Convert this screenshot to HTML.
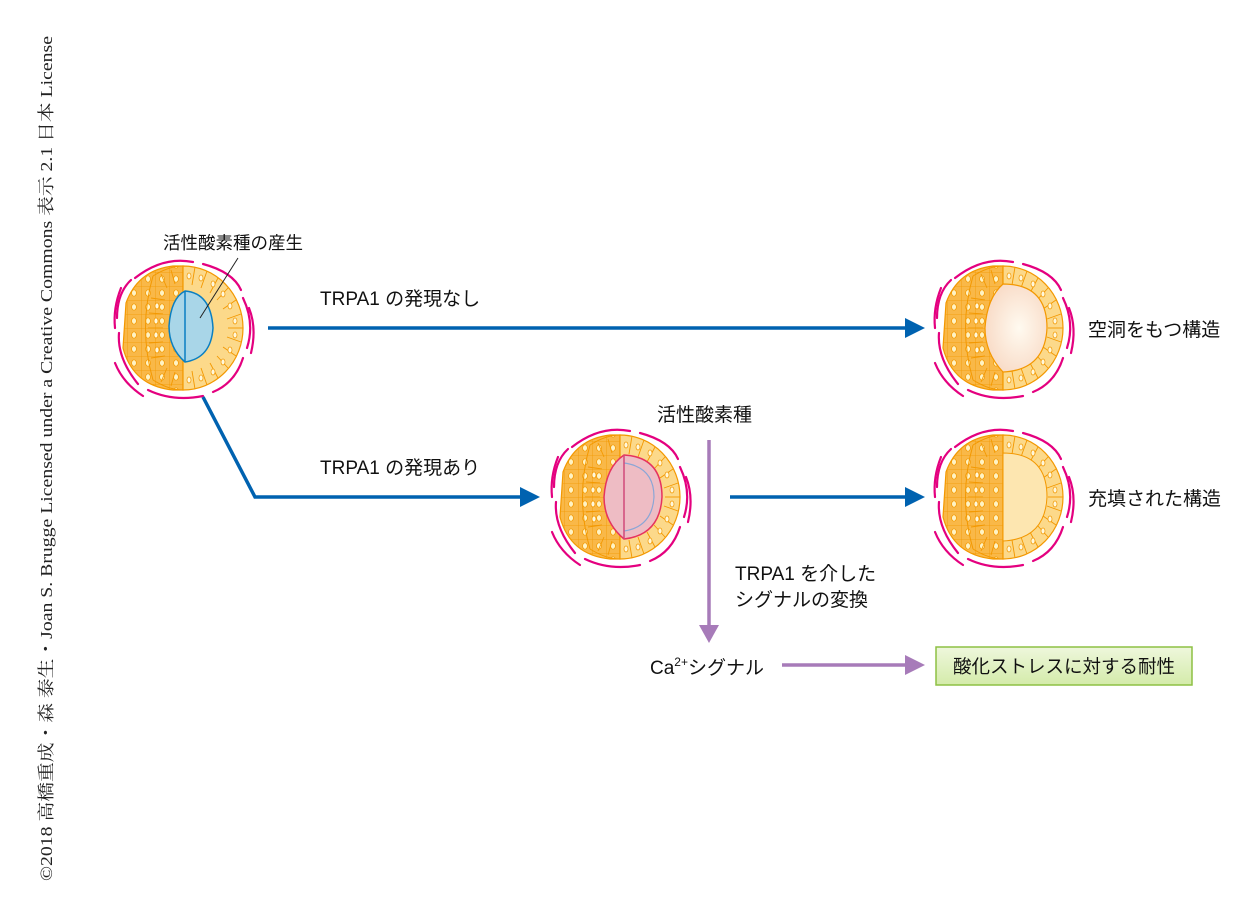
<!DOCTYPE html>
<html><head><meta charset="utf-8"><style>
html,body{margin:0;padding:0;background:#fff;}
svg{display:block}
text{font-family:"Liberation Sans","Noto Sans CJK JP",sans-serif;fill:#111;}
</style></head><body>
<svg width="1260" height="921" viewBox="0 0 1260 921" xmlns="http://www.w3.org/2000/svg">
<defs>
<radialGradient id="lum" cx="0.55" cy="0.5" r="0.6"><stop offset="0" stop-color="#fffaf0"/><stop offset="1" stop-color="#f8d9c4"/></radialGradient>
<linearGradient id="gbox" x1="0" y1="0" x2="0" y2="1"><stop offset="0" stop-color="#eef7dc"/><stop offset="1" stop-color="#d4ebaa"/></linearGradient>
<pattern id="cells" width="14" height="14" patternUnits="userSpaceOnUse">
<rect width="14" height="14" fill="#f9b848"/>
<path d="M0 0 L14 0 M0 0 L0 14" stroke="#f39800" stroke-width="0.8"/>
<ellipse cx="7" cy="7" rx="2.4" ry="3.2" fill="#fff3c4" stroke="#f39800" stroke-width="0.7"/>
</pattern>
<g id="sph">
<path d="M-57 -25 Q-45 -58 -10 -62 L0 -62 L0 62 L-10 62 Q-50 58 -60 20 Z" fill="url(#cells)" stroke="#f39800" stroke-width="1.2"/>
<path d="M0 -62 A60 62 0 0 1 0 62 Z" fill="#fcd98a" stroke="#f39800" stroke-width="1.2"/>
<path d="M-30 -52 Q-45 0 -30 52" fill="none" stroke="#f39800" stroke-width="1"/>
<path d="M-30 -52 Q-14 -62 0 -62 M-30 52 Q-14 62 0 62" fill="none" stroke="#f39800" stroke-width="1"/>
<g stroke="#f39800" stroke-width="0.9">
<line x1="0" y1="-62" x2="0" y2="-44"/><line x1="12" y1="-61" x2="9" y2="-43"/><line x1="24" y1="-57" x2="18" y2="-40"/><line x1="35" y1="-50" x2="27" y2="-35"/><line x1="45" y1="-40" x2="34" y2="-28"/><line x1="53" y1="-28" x2="40" y2="-19"/><line x1="58" y1="-14" x2="44" y2="-9"/><line x1="60" y1="0" x2="45" y2="0"/><line x1="58" y1="14" x2="44" y2="9"/><line x1="53" y1="28" x2="40" y2="19"/><line x1="45" y1="40" x2="34" y2="28"/><line x1="35" y1="50" x2="27" y2="35"/><line x1="24" y1="57" x2="18" y2="40"/><line x1="12" y1="61" x2="9" y2="43"/><line x1="0" y1="62" x2="0" y2="44"/>
<line x1="-12" y1="-58" x2="-8" y2="-44"/><line x1="-22" y1="-54" x2="-16" y2="-40"/><line x1="-12" y1="58" x2="-8" y2="44"/><line x1="-22" y1="54" x2="-16" y2="40"/>
<line x1="-32" y1="-30" x2="-18" y2="-28"/><line x1="-34" y1="-15" x2="-20" y2="-14"/><line x1="-35" y1="0" x2="-20" y2="0"/><line x1="-34" y1="15" x2="-20" y2="14"/><line x1="-32" y1="30" x2="-18" y2="28"/>
</g>
<g fill="#fff8dc" stroke="#f39800" stroke-width="0.7">
<ellipse cx="6" cy="-52" rx="2" ry="3"/><ellipse cx="18" cy="-50" rx="2" ry="3"/><ellipse cx="30" cy="-44" rx="2" ry="3"/><ellipse cx="40" cy="-34" rx="2" ry="3"/><ellipse cx="47" cy="-22" rx="2" ry="3"/><ellipse cx="52" cy="-7" rx="2" ry="3"/><ellipse cx="52" cy="7" rx="2" ry="3"/><ellipse cx="47" cy="22" rx="2" ry="3"/><ellipse cx="40" cy="34" rx="2" ry="3"/><ellipse cx="30" cy="44" rx="2" ry="3"/><ellipse cx="18" cy="50" rx="2" ry="3"/><ellipse cx="6" cy="52" rx="2" ry="3"/>
<ellipse cx="-26" cy="-22" rx="2" ry="3"/><ellipse cx="-27" cy="-7" rx="2" ry="3"/><ellipse cx="-27" cy="7" rx="2" ry="3"/><ellipse cx="-26" cy="22" rx="2" ry="3"/>
</g>
<g fill="none" stroke="#e4007f" stroke-width="2.2" stroke-linecap="round">
<path d="M-48 -50 Q-20 -72 10 -66"/><path d="M20 -64 Q50 -56 58 -38"/><path d="M60 -30 Q72 -5 64 20"/><path d="M60 30 Q52 55 30 64"/><path d="M20 68 Q-10 74 -35 62"/><path d="M-45 56 Q-66 30 -64 5"/><path d="M-66 -10 Q-66 -35 -52 -48"/><path d="M-62 -40 Q-70 -20 -68 0"/><path d="M66 -20 Q74 0 68 25"/><path d="M-40 68 Q-60 55 -68 35"/>
</g>
</g>
</defs>

<text transform="translate(52,881) rotate(-90)" style="font-family:'Liberation Serif','Noto Serif CJK SC',serif;font-size:17px;fill:#222" textLength="845" lengthAdjust="spacingAndGlyphs">©2018 高橋重成・森 泰生・Joan S. Brugge Licensed under a Creative Commons 表示 2.1 日本 License</text>

<g transform="translate(183,328)"><use href="#sph"/>
<path d="M2 -37 Q28 -35 30 0 Q28 30 2 34 Q-14 20 -14 -2 Q-12 -30 2 -37 Z" fill="#a9d6e8" stroke="#0a7fc2" stroke-width="1.5"/>
<line x1="2" y1="-37" x2="2" y2="34" stroke="#0a7fc2" stroke-width="1.5"/></g>
<g transform="translate(620,497)"><use href="#sph"/>
<path d="M4 -42 Q42 -40 42 0 Q40 38 4 42 Q-16 25 -16 0 Q-14 -30 4 -42 Z" fill="#eebcc4" stroke="#e6335e" stroke-width="1.5"/>
<path d="M4 -34 Q34 -30 34 0 Q32 30 4 34" fill="none" stroke="#8aa6d6" stroke-width="1.2"/>
<line x1="4" y1="-42" x2="4" y2="42" stroke="#d04a7a" stroke-width="1.5"/></g>
<g transform="translate(1003,328)"><use href="#sph"/>
<path d="M0 -44 Q44 -44 44 0 Q42 42 0 44 Q-18 25 -18 0 Q-16 -30 0 -44 Z" fill="url(#lum)" stroke="#f39800" stroke-width="1.2"/></g>
<g transform="translate(1003,497)"><use href="#sph"/>
<path d="M0 -44 Q44 -44 44 0 Q42 42 0 44 Z" fill="#fde6b0" stroke="#f39800" stroke-width="1"/></g>

<text x="163" y="249" font-size="17.5">活性酸素種の産生</text>
<line x1="238" y1="258" x2="200" y2="318" stroke="#222" stroke-width="1"/>
<text x="320" y="305" font-size="19">TRPA1 の発現なし</text>
<text x="320" y="474" font-size="19">TRPA1 の発現あり</text>
<text x="1088" y="336" font-size="19">空洞をもつ構造</text>
<text x="1088" y="505" font-size="19">充填された構造</text>
<text x="657" y="421" font-size="19">活性酸素種</text>
<text x="735" y="580" font-size="19">TRPA1 を介した</text>
<text x="735" y="606" font-size="19">シグナルの変換</text>
<text x="650" y="674" font-size="19">Ca<tspan font-size="12" dy="-8">2+</tspan><tspan dy="8">シグナル</tspan></text>

<g stroke="#0062b0" stroke-width="3.5" fill="none">
<line x1="268" y1="328" x2="908" y2="328"/>
<polyline points="203,397 255,497 522,497"/>
<line x1="730" y1="497" x2="908" y2="497"/>
</g>
<g fill="#0062b0">
<polygon points="905,318 925,328 905,338"/>
<polygon points="520,487 540,497 520,507"/>
<polygon points="905,487 925,497 905,507"/>
</g>
<g stroke="#a77bb9" stroke-width="3.5" fill="none">
<line x1="709" y1="440" x2="709" y2="628"/>
<line x1="782" y1="665" x2="908" y2="665"/>
</g>
<g fill="#a77bb9">
<polygon points="699,625 719,625 709,643"/>
<polygon points="905,655 925,665 905,675"/>
</g>
<rect x="936" y="647" width="256" height="38" fill="url(#gbox)" stroke="#8dc044" stroke-width="1.5"/>
<text x="1064" y="673" font-size="18.5" text-anchor="middle">酸化ストレスに対する耐性</text>
</svg>
</body></html>
